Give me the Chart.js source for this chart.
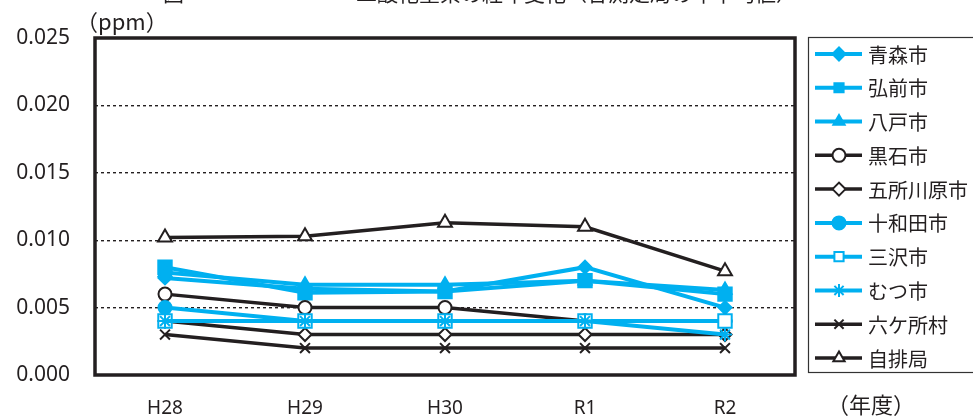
<!DOCTYPE html>
<html>
<head>
<meta charset="utf-8">
<script src="https://cdn.jsdelivr.net/npm/chart.js@4.4.1/dist/chart.umd.min.js"></script>
<style>
  html, body { margin: 0; padding: 0; background: #ffffff; }
  #wrap { width: 973px; height: 419px; position: relative; overflow: hidden; }
</style>
</head>
<body>
<div id="wrap"><canvas id="chart" width="973" height="419"></canvas></div>
<script>
// 年度
const years = ['H28', 'H29', 'H30', 'R1', 'R2'];

// 測定局ごとの年平均値 (ppm)
const aomori      = [0.0072, 0.0064, 0.0062, 0.0080, 0.0050]; // 青森市
const hirosaki    = [0.0080, 0.0061, 0.0062, 0.0070, 0.0060]; // 弘前市
const hachinohe   = [0.0076, 0.0067, 0.0067, 0.0070, 0.0063]; // 八戸市
const kuroishi    = [0.0060, 0.0050, 0.0050, 0.0040, 0.0040]; // 黒石市
const goshogawara = [0.0040, 0.0030, 0.0030, 0.0030, 0.0030]; // 五所川原市
const towada      = [0.0050, 0.0040, 0.0040, 0.0040, 0.0040]; // 十和田市
const misawa      = [0.0040, 0.0040, 0.0040, 0.0040, 0.0040]; // 三沢市
const mutsu       = [0.0040, 0.0040, 0.0040, 0.0040, 0.0030]; // むつ市
const rokkasho    = [0.0030, 0.0020, 0.0020, 0.0020, 0.0020]; // 六ケ所村
const jihaikyoku  = [0.0102, 0.0103, 0.0113, 0.0110, 0.0077]; // 自排局

// 縦軸の目盛
const yTicks = [0.000, 0.005, 0.010, 0.015, 0.020, 0.025];

const BLUE = '#00b0f0';
const INK = '#231f20';
const JP_FONT = "'Noto Sans CJK JP', 'Noto Sans', sans-serif";
const NUM_FONT = "'Noto Sans', 'Noto Sans CJK JP', sans-serif";

function series(label, data, color, style, filled, radius) {
  return {
    label: label,
    data: data,
    borderColor: color,
    backgroundColor: color,
    borderWidth: color === BLUE ? 4 : 3.5,
    pointStyle: style,
    pointRadius: radius,
    pointHoverRadius: radius,
    pointBorderWidth: 2,
    pointBorderColor: color,
    pointBackgroundColor: filled ? color : '#ffffff',
    tension: 0,
    fill: false
  };
}

const datasets = [
  series('青森市', aomori, BLUE, 'rectRot', true, 6.5),
  series('弘前市', hirosaki, BLUE, 'rect', true, 9.5),
  series('八戸市', hachinohe, BLUE, 'triangle', true, 7.5),
  series('黒石市', kuroishi, INK, 'circle', false, 6.5),
  series('五所川原市', goshogawara, INK, 'rectRot', false, 6.5),
  series('十和田市', towada, BLUE, 'circle', true, 6.5),
  series('三沢市', misawa, BLUE, 'rect', false, 9.5),
  series('むつ市', mutsu, BLUE, 'star', false, 7),
  series('六ケ所村', rokkasho, INK, 'crossRot', false, 7),
  series('自排局', jihaikyoku, INK, 'triangle', false, 8)
];
// later series are painted over earlier ones
datasets.forEach((d, i) => { d.order = datasets.length - i; });

// frame around the plot area, unit labels, title and legend box
const decorations = {
  id: 'decorations',
  afterDatasetsDraw(chart) {
    const ctx = chart.ctx;
    const a = chart.chartArea;
    ctx.save();
    ctx.strokeStyle = INK;
    ctx.lineWidth = 3.5;
    ctx.strokeRect(a.left, a.top, a.right - a.left, a.bottom - a.top);
    ctx.restore();
  },
  afterDraw(chart) {
    const ctx = chart.ctx;
    ctx.save();
    ctx.fillStyle = INK;

    // title line (runs off the top edge)
    ctx.font = '21px ' + JP_FONT;
    ctx.textBaseline = 'alphabetic';
    ctx.textAlign = 'left';
    ctx.fillText('図', 163, 1);
    ctx.fillText('二酸化窒素の経年変化（各測定局の年平均値）', 356, 1);

    // units
    ctx.font = '22px ' + JP_FONT;
    ctx.textBaseline = 'middle';
    ctx.fillText('（ppm）', 76, 22);
    ctx.fillText('（年度）', 827, 405);

    // legend
    const boxL = 808, boxT = 37, boxB = 372;
    ctx.strokeStyle = '#333333';
    ctx.lineWidth = 1.2;
    ctx.strokeRect(boxL + 0.5, boxT + 0.5, 200, boxB - boxT);
    const step = (358 - 54) / 9;
    chart.data.datasets.forEach((ds, i) => {
      const y = 54 + i * step;
      ctx.strokeStyle = ds.borderColor;
      ctx.lineWidth = ds.borderWidth;
      ctx.beginPath();
      ctx.moveTo(815, y);
      ctx.lineTo(862, y);
      ctx.stroke();
      ctx.strokeStyle = ds.pointBorderColor;
      ctx.fillStyle = ds.pointBackgroundColor;
      ctx.lineWidth = 2;
      Chart.helpers.drawPoint(ctx, {
        pointStyle: ds.pointStyle,
        radius: Math.min(ds.pointRadius, 6.5),
        rotation: 0,
        borderWidth: 2
      }, 839, y);
      ctx.fillStyle = INK;
      ctx.font = '20px ' + JP_FONT;
      ctx.textAlign = 'left';
      ctx.textBaseline = 'middle';
      ctx.fillText(ds.label, 868, y + 1);
    });
    ctx.restore();
  }
};

new Chart(document.getElementById('chart'), {
  type: 'line',
  data: { labels: years, datasets: datasets },
  options: {
    responsive: false,
    animation: false,
    events: [],
    layout: { padding: { left: 0, right: 178, top: 38, bottom: 0 } },
    plugins: { legend: { display: false }, tooltip: { enabled: false }, title: { display: false } },
    scales: {
      x: {
        offset: true,
        grid: { display: false, drawTicks: false },
        border: { display: false },
        ticks: { color: INK, font: { family: NUM_FONT, size: 19 }, padding: 22, maxRotation: 0 },
        afterFit(scale) { scale.height = 44; }
      },
      y: {
        min: 0,
        max: 0.025,
        afterBuildTicks(scale) { scale.ticks = yTicks.map(v => ({ value: v })); },
        grid: {
          drawTicks: false,
          lineWidth: 1.4,
          color: ctx => (ctx.tick && (ctx.tick.value === 0 || ctx.tick.value === 0.025)) ? 'rgba(0,0,0,0)' : INK
        },
        border: { display: false, dash: [3, 3] },
        ticks: {
          color: INK,
          font: { family: NUM_FONT, size: 21 },
          padding: 25,
          callback: v => Number(v).toFixed(3)
        },
        afterFit(scale) { scale.width = 95; }
      }
    }
  },
  plugins: [decorations]
});
</script>
</body>
</html>
